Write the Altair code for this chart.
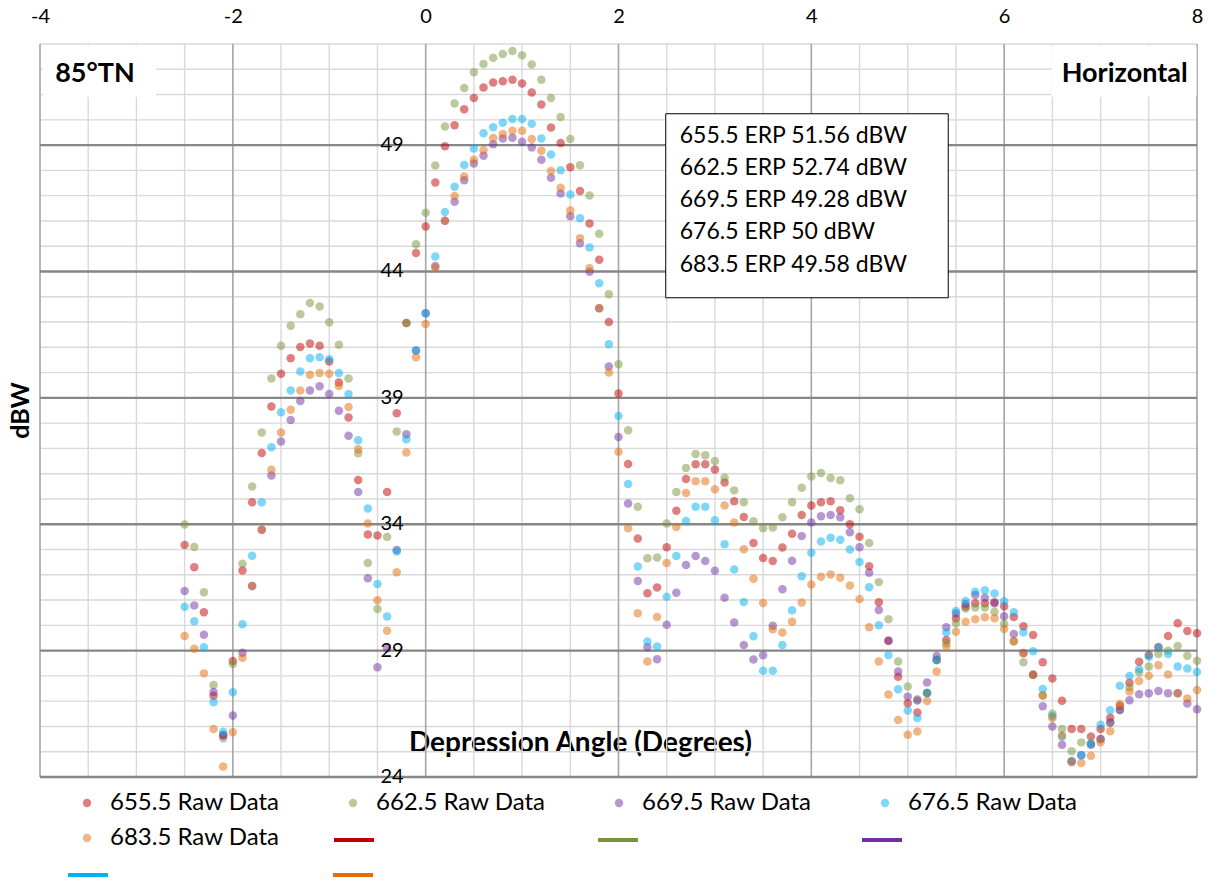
import altair as alt
import pandas as pd

# ---------------- data ----------------
angles = [-2.5, -2.4, -2.3, -2.2, -2.1, -2.0, -1.9, -1.8, -1.7, -1.6, -1.5, -1.4, -1.3, -1.2, -1.1,
          -1.0, -0.9, -0.8, -0.7, -0.6, -0.5, -0.4, -0.3, -0.2, -0.1, 0.0, 0.1, 0.2, 0.3, 0.4,
          0.5, 0.6, 0.7, 0.8, 0.9, 1.0, 1.1, 1.2, 1.3, 1.4, 1.5, 1.6, 1.7, 1.8, 1.9,
          2.0, 2.1, 2.2, 2.3, 2.4, 2.5, 2.6, 2.7, 2.8, 2.9, 3.0, 3.1, 3.2, 3.3, 3.4,
          3.5, 3.6, 3.7, 3.8, 3.9, 4.0, 4.1, 4.2, 4.3, 4.4, 4.5, 4.6, 4.7, 4.8, 4.9,
          5.0, 5.1, 5.2, 5.3, 5.4, 5.5, 5.6, 5.7, 5.8, 5.9, 6.0, 6.1, 6.2, 6.3, 6.4,
          6.5, 6.6, 6.7, 6.8, 6.9, 7.0, 7.1, 7.2, 7.3, 7.4, 7.5, 7.6, 7.7, 7.8, 7.9, 8.0]

raw_655 = [33.18, 32.30, 30.52, 27.21, 25.64, 28.59, 32.17, 34.87, 36.82, 38.66, 39.95, 40.57, 41.01, 41.15, 41.06,
           40.44, 39.61, 38.22, 35.75, 33.59, 33.55, 35.28, 38.39, 41.96, 44.73, 45.78, 47.52, 48.95, 49.79, 50.42,
           50.86, 51.28, 51.48, 51.53, 51.59, 51.44, 51.08, 50.61, 49.70, 49.08, 48.12, 47.18, 45.90, 44.46, 42.00,
           39.17, 36.38, 33.44, 31.27, 31.50, 33.09, 34.53, 35.79, 36.37, 36.37, 36.17, 35.65, 34.91, 34.29, 33.26,
           32.66, 32.55, 33.08, 33.62, 34.37, 34.74, 34.87, 34.91, 34.55, 34.00, 33.51, 32.34, 30.91, 29.39, 27.97,
           26.92, 26.55, 27.32, 28.63, 29.42, 30.28, 30.74, 30.87, 30.87, 30.91, 30.76, 30.33, 29.96, 29.62, 28.54,
           27.90, 27.02, 25.90, 25.90, 25.60, 25.90, 26.34, 26.81, 27.73, 28.56, 28.83, 29.13, 29.58, 30.08, 29.78, 29.69]

raw_662 = [33.99, 33.10, 31.31, 27.64, 25.53, 28.47, 32.44, 35.49, 37.63, 39.77, 41.06, 41.85, 42.31, 42.75, 42.61,
           41.99, 41.10, 39.77, 36.81, 32.47, 30.65, 33.50, 37.67, 41.96, 45.08, 46.32, 48.19, 49.74, 50.65, 51.26,
           51.88, 52.21, 52.46, 52.60, 52.72, 52.55, 52.19, 51.59, 50.86, 50.11, 49.24, 48.20, 47.01, 45.49, 43.10,
           40.33, 37.72, 34.69, 32.65, 32.68, 34.03, 35.28, 36.23, 36.78, 36.73, 36.50, 35.84, 35.34, 34.87, 34.12,
           33.84, 33.87, 34.28, 34.87, 35.44, 35.89, 36.03, 35.83, 35.74, 35.03, 34.59, 33.26, 31.71, 30.24, 28.57,
           27.58, 27.08, 27.32, 28.63, 29.29, 30.08, 30.67, 30.71, 30.71, 30.54, 30.06, 29.37, 28.54, 28.05, 27.22,
           26.50, 25.90, 25.02, 25.37, 25.32, 25.50, 26.16, 26.65, 27.55, 28.14, 28.37, 28.87, 29.00, 29.18, 28.80, 28.60]

raw_669 = [31.36, 30.79, 29.63, 27.36, 25.66, 26.43, 28.92, 31.56, 33.78, 35.93, 37.27, 38.12, 38.88, 39.29, 39.46,
           39.15, 38.49, 37.50, 35.28, 31.86, 28.34, 29.09, 32.98, 37.56, 40.87, 42.35, 44.22, 46.01, 46.76, 47.61,
           48.27, 48.58, 49.03, 49.26, 49.29, 49.13, 48.91, 48.42, 47.71, 47.09, 46.19, 45.12, 43.99, 42.55, 40.24,
           37.45, 34.82, 31.75, 29.13, 28.66, 30.02, 31.29, 32.39, 32.74, 32.55, 32.16, 31.09, 30.11, 29.22, 28.65,
           28.82, 29.98, 31.43, 32.56, 33.53, 34.07, 34.32, 34.37, 34.28, 33.68, 33.09, 32.08, 30.61, 29.39, 28.17,
           27.18, 27.03, 27.74, 28.79, 29.92, 30.47, 30.84, 31.20, 31.09, 30.87, 30.36, 29.66, 28.91, 28.05, 26.80,
           26.00, 25.28, 24.62, 24.86, 25.28, 25.50, 26.16, 26.65, 27.04, 27.27, 27.31, 27.40, 27.31, 27.31, 26.91, 26.68]

raw_676 = [30.74, 30.16, 29.13, 26.96, 25.79, 27.35, 30.04, 32.75, 34.87, 37.05, 38.43, 39.29, 40.04, 40.57, 40.61,
           40.53, 39.98, 39.15, 37.32, 34.62, 31.64, 30.35, 32.92, 37.36, 40.87, 42.35, 44.59, 46.35, 47.35, 48.21,
           48.87, 49.47, 49.71, 49.88, 50.03, 50.03, 49.84, 49.26, 48.63, 48.01, 47.05, 46.11, 44.95, 43.53, 41.12,
           38.28, 35.59, 32.33, 29.36, 29.16, 31.13, 32.74, 34.13, 34.69, 34.69, 34.16, 33.21, 32.21, 30.92, 29.57,
           28.20, 28.20, 29.22, 30.60, 31.94, 32.87, 33.32, 33.47, 33.39, 33.00, 32.51, 31.51, 30.00, 28.83, 27.47,
           26.63, 26.33, 27.32, 28.63, 29.72, 30.57, 30.96, 31.33, 31.39, 31.26, 30.95, 30.52, 29.73, 28.98, 27.48,
           26.40, 25.59, 24.62, 24.86, 25.32, 26.07, 26.64, 27.61, 28.00, 28.26, 28.76, 29.13, 28.87, 28.37, 28.29, 28.15]

raw_683 = [29.58, 29.07, 28.10, 25.90, 24.42, 25.77, 28.72, 31.56, 33.78, 36.16, 37.63, 38.53, 39.29, 39.91, 39.98,
           39.95, 39.47, 38.64, 36.97, 34.03, 30.99, 29.79, 32.10, 36.84, 40.61, 41.92, 44.15, 46.01, 46.99, 47.76,
           48.42, 48.80, 49.28, 49.44, 49.57, 49.57, 49.24, 48.78, 47.98, 47.31, 46.41, 45.32, 44.13, 42.55, 40.00,
           36.87, 33.84, 30.48, 28.57, 30.33, 32.47, 33.89, 35.24, 35.70, 35.70, 35.38, 34.74, 34.07, 33.01, 31.84,
           30.88, 29.85, 29.72, 30.14, 30.90, 31.62, 31.92, 32.01, 31.88, 31.58, 31.04, 29.92, 28.57, 27.26, 26.26,
           25.67, 25.80, 27.01, 28.17, 29.16, 29.75, 30.14, 30.24, 30.32, 30.28, 29.86, 29.37, 28.90, 28.05, 27.22,
           26.33, 25.64, 24.58, 24.55, 24.84, 25.37, 25.81, 26.89, 27.38, 27.80, 28.01, 28.42, 28.06, 27.31, 27.11, 27.44]

raw_names = ["655.5 Raw Data", "662.5 Raw Data", "669.5 Raw Data", "676.5 Raw Data", "683.5 Raw Data"]
series_colors = ["#C00000", "#77933C", "#7030A0", "#00B0F0", "#E46C0A"]
# legend-only line entries (no labels in the original)
fit_names_a = ["655.5 Fit", "662.5 Fit", "669.5 Fit"]
fit_colors_a = ["#C00000", "#77933C", "#7030A0"]
fit_names_b = ["676.5 Fit", "683.5 Fit"]
fit_colors_b = ["#00B0F0", "#E46C0A"]

erp_lines = ["655.5 ERP  51.56 dBW", "662.5 ERP  52.74 dBW", "669.5 ERP  49.28 dBW",
             "676.5 ERP  50 dBW", "683.5 ERP  49.58 dBW"]

x_ticks = [-4, -2, 0, 2, 4, 6, 8]
x_minor = [-4, -3.5, -3, -2.5, -2, -1.5, -1, -0.5, 0, 0.5, 1, 1.5, 2, 2.5, 3, 3.5, 4, 4.5,
           5, 5.5, 6, 6.5, 7, 7.5, 8]
y_ticks = [24, 29, 34, 39, 44, 49]
y_minor = [24, 25, 26, 27, 28, 29, 30, 31, 32, 33, 34, 35, 36, 37, 38, 39, 40, 41, 42, 43, 44,
           45, 46, 47, 48, 49, 50, 51, 52, 53]

# annotation anchors (data units)
corner_boxes = pd.DataFrame({"x": [-3.97, 6.49], "x2": [-2.795, 7.995],
                             "y": [52.93, 52.93], "y2": [50.91, 50.91]})
corner_text = pd.DataFrame({"x": [-3.43, 7.25], "y": [51.82, 51.82], "t": ["85°TN", "Horizontal"]})
erp_box = pd.DataFrame({"x": [2.49], "x2": [5.42], "y": [50.24], "y2": [42.96]})
erp_anchor = pd.DataFrame({"x": [2.635], "y": [49.37]})

# ---------------- chart ----------------
FONT = "Lato"
W, H = 1157, 733

rows = []
for name, vals in zip(raw_names, [raw_655, raw_662, raw_669, raw_676, raw_683]):
    for a, v in zip(angles, vals):
        rows.append({"angle": a, "dBW": v, "series": name})
df = pd.DataFrame(rows)

xscale = alt.Scale(domain=[-4, 8], nice=False, zero=False)
yscale = alt.Scale(domain=[24, 53], nice=False, zero=False)

x_axis = alt.Axis(orient="top", values=x_ticks, grid=False, ticks=False, tickSize=0, domain=False,
                  labelFont=FONT, labelFontSize=20, labelColor="black", labelPadding=18,
                  labelFlush=False, labelOverlap=False, labelExpr="toString(datum.value)",
                  title="Depression Angle (Degrees)", titleFont=FONT, titleFontSize=28,
                  titleFontWeight="bold", titleColor="black", titleX=540, titleY=699,
                  titleAlign="center", titleBaseline="middle", titleAnchor="start")
y_axis = alt.Axis(orient="left", labels=False, grid=False, ticks=False, domain=False,
                  title="dBW", titleFont=FONT, titleFontSize=25, titleFontWeight="bold",
                  titleColor="black", titleX=-20, titleY=366, titleAngle=270,
                  titleAlign="center", titleBaseline="middle", titleAnchor="start")


def X(field):
    return alt.X(field, type="quantitative", scale=xscale, axis=x_axis)


def Y(field):
    return alt.Y(field, type="quantitative", scale=yscale, axis=y_axis)


vminor = alt.Chart(pd.DataFrame({"v": x_minor})).mark_rule(color="#D9D9D9", strokeWidth=1.4).encode(x=X("v"))
hminor = alt.Chart(pd.DataFrame({"v": y_minor})).mark_rule(color="#D9D9D9", strokeWidth=1.4).encode(y=Y("v"))
vmajor = alt.Chart(pd.DataFrame({"v": x_ticks})).mark_rule(color="#A6A6A6", strokeWidth=1.5).encode(x=X("v"))
hmajor = alt.Chart(pd.DataFrame({"v": y_ticks})).mark_rule(color="#878787", strokeWidth=2.4).encode(y=Y("v"))

legend_raw = alt.Legend(
    title=None, orient="none", direction="horizontal", legendX=35, legendY=747, columns=4,
    gridAlign="all", columnPadding=61, rowPadding=11, padding=0, symbolType="circle",
    symbolSize=70, symbolOpacity=0.5, symbolStrokeWidth=0, labelFont=FONT, labelFontSize=24,
    labelColor="black", labelOffset=11, labelLimit=400)

points = alt.Chart(df).mark_circle(size=72, opacity=0.5).encode(
    x=X("angle"),
    y=Y("dBW"),
    color=alt.Color("series:N", scale=alt.Scale(domain=raw_names, range=series_colors), legend=legend_raw),
)

line_path = "M -1,-0.1 L 1,-0.1 L 1,0.1 L -1,0.1 Z"

legend_fit_a = alt.Legend(
    title=None, orient="none", direction="horizontal", legendX=292, legendY=774, columns=3,
    gridAlign="all", columnPadding=208, padding=0, symbolType="stroke", symbolSize=1600,
    symbolStrokeWidth=4, symbolOpacity=1, labelOffset=0, labelFontSize=1, labelExpr="''")
fit_a = alt.Chart(pd.DataFrame({"k": pd.Series([], dtype=str)})).mark_point(filled=False).encode(
    stroke=alt.Stroke("k:N", scale=alt.Scale(domain=fit_names_a, range=fit_colors_a), legend=legend_fit_a))

legend_fit_b = alt.Legend(
    title=None, orient="none", direction="horizontal", legendX=28, legendY=811, columns=2,
    gridAlign="all", columnPadding=225, padding=0, symbolType=line_path, symbolSize=1600,
    symbolStrokeWidth=0, symbolOpacity=1, labelOffset=0, labelFontSize=1, labelExpr="''")
fit_b = alt.Chart(pd.DataFrame({"k": pd.Series([], dtype=str)})).mark_point(filled=True).encode(
    fill=alt.Fill("k:N", scale=alt.Scale(domain=fit_names_b, range=fit_colors_b), legend=legend_fit_b))

ylabels = alt.Chart(pd.DataFrame({"v": y_ticks})).mark_text(
    align="right", baseline="middle", dx=-22, font=FONT, fontSize=20, color="black"
).encode(x=alt.X(datum=0, type="quantitative", scale=xscale, axis=x_axis), y=Y("v"), text=alt.Text("v:Q"))

boxes = alt.Chart(corner_boxes).mark_rect(fill="white", stroke=None).encode(
    x=X("x"), x2="x2", y=Y("y"), y2="y2")
boxtext = alt.Chart(corner_text).mark_text(font=FONT, fontSize=27, fontWeight="bold", color="black",
                                           align="center", baseline="middle").encode(
    x=X("x"), y=Y("y"), text="t:N")

erp_rect = alt.Chart(erp_box).mark_rect(fill="white", stroke="black", strokeWidth=1).encode(
    x=X("x"), x2="x2", y=Y("y"), y2="y2")
erp_text = alt.Chart(erp_anchor).mark_text(font=FONT, fontSize=23, color="black", align="left",
                                           baseline="middle", lineHeight=32.2, text=erp_lines).encode(
    x=X("x"), y=Y("y"))

chart = alt.layer(vminor, hminor, vmajor, hmajor, points, fit_a, fit_b, ylabels, boxes, boxtext,
                  erp_rect, erp_text).properties(
    width=W, height=H,
    autosize=alt.AutoSizeParams(type="none"),
    padding={"left": 40, "top": 44, "right": 11, "bottom": 104},
    background="white",
).configure_view(stroke=None)

chart.save("out.html", embed_options={"renderer": "svg", "actions": False})
